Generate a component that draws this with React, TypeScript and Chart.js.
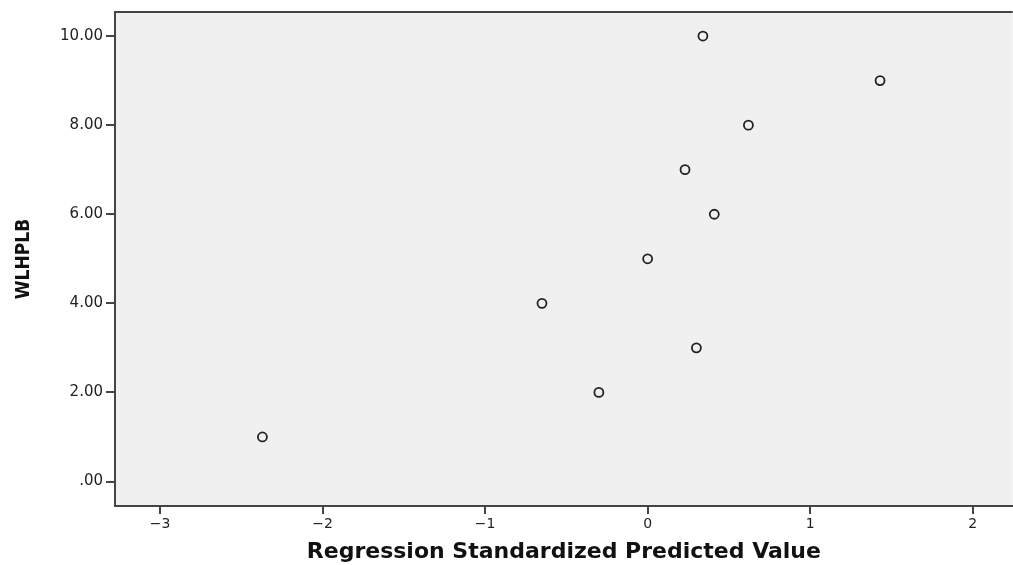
import React, { useEffect, useRef } from "react";
import { Chart, registerables } from "chart.js";

Chart.register(...registerables);

const predicted = [-2.37, -0.30, 0.30, -0.65, 0.0, 0.41, 0.23, 0.62, 1.43, 0.34];
const wlhplb = [1, 2, 3, 4, 5, 6, 7, 8, 9, 10];
const xTickValues = [-3, -2, -1, 0, 1, 2];
const yTickValues = [0, 2, 4, 6, 8, 10];
const xTitle = "Regression Standardized Predicted Value";
const yTitle = "WLHPLB";

const bgPlugin = {
  id: "bgPlugin",
  beforeDraw(chart: any) {
    const { ctx, chartArea } = chart;
    ctx.save();
    ctx.fillStyle = "#f0f0f0";
    ctx.fillRect(chartArea.left, chartArea.top, chartArea.right - chartArea.left, chartArea.bottom - chartArea.top);
    ctx.restore();
  },
  afterDraw(chart: any) {
    const { ctx, chartArea } = chart;
    ctx.save();
    ctx.strokeStyle = "#444";
    ctx.lineWidth = 2;
    ctx.beginPath();
    ctx.moveTo(chartArea.left, chartArea.top);
    ctx.lineTo(chartArea.right, chartArea.top);
    ctx.stroke();
    ctx.restore();
  },
};

export default function App() {
  const ref = useRef<HTMLCanvasElement>(null);
  useEffect(() => {
    if (!ref.current) return;
    const chart = new Chart(ref.current, {
      type: "scatter",
      data: {
        datasets: [
          {
            data: predicted.map((x, i) => ({ x, y: wlhplb[i] })),
            pointRadius: 4.5,
            pointBorderWidth: 1.8,
            pointBorderColor: "#222",
            pointBackgroundColor: "rgba(0,0,0,0)",
          },
        ],
      },
      options: {
        animation: false,
        responsive: false,
        maintainAspectRatio: false,
        layout: { padding: { top: 12, right: 0, left: 0, bottom: 0 } },
        plugins: { legend: { display: false }, tooltip: { enabled: false } },
        scales: {
          x: {
            type: "linear",
            min: -3.277,
            max: 2.246,
            afterBuildTicks: (s: any) => {
              s.ticks = xTickValues.map((v) => ({ value: v }));
            },
            afterFit: (s: any) => {
              s.height = 59;
            },
            grid: { display: true, drawOnChartArea: false, color: "#444", lineWidth: 2, tickLength: 8 },
            border: { display: true, color: "#444", width: 2 },
            ticks: {
              color: "#222",
              padding: 2,
              font: { family: "DejaVu Sans", size: 14 },
              callback: (v: any) => (Number(v) < 0 ? "\u2212" + Math.abs(Number(v)) : String(v)),
            },
            title: {
              display: true,
              text: xTitle,
              color: "#111",
              font: { family: "DejaVu Sans", size: 22, weight: "bold" },
              padding: { top: 1, bottom: 0 },
            },
          },
          y: {
            type: "linear",
            min: -0.55,
            max: 10.54,
            afterBuildTicks: (s: any) => {
              s.ticks = yTickValues.map((v) => ({ value: v }));
            },
            afterFit: (s: any) => {
              s.width = 115;
            },
            grid: { display: true, drawOnChartArea: false, color: "#444", lineWidth: 2, tickLength: 9 },
            border: { display: true, color: "#444", width: 2 },
            ticks: {
              color: "#222",
              padding: 3,
              font: { family: "DejaVu Sans", size: 15 },
              callback: (v: any) => (Number(v) === 0 ? ".00" : Number(v).toFixed(2)),
            },
            title: {
              display: true,
              text: yTitle,
              color: "#111",
              font: { family: "DejaVu Sans Condensed", size: 19, weight: "bold" },
              padding: { top: 13, bottom: 0 },
            },
          },
        },
      },
      plugins: [bgPlugin],
    });
    return () => chart.destroy();
  }, []);
  return (
    <div style={{ position: "absolute", left: 0, top: 0, width: 1013, height: 565, overflow: "hidden" }}>
      <canvas ref={ref} width={1019} height={565} style={{ width: 1019, height: 565, display: "block" }} />
    </div>
  );
}
